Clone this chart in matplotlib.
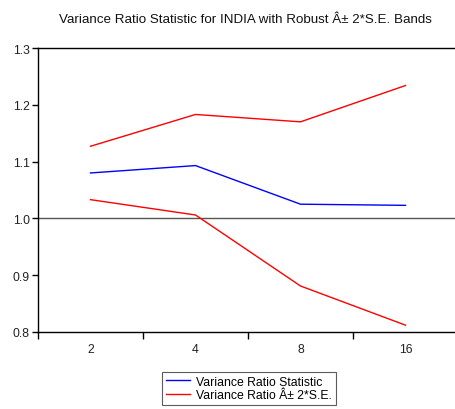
import matplotlib
matplotlib.use("Agg")
import matplotlib.pyplot as plt
from matplotlib.ticker import FixedLocator, NullFormatter, FixedFormatter

plt.rcParams['font.family'] = ['Liberation Sans', 'DejaVu Sans']

categories = ["2", "4", "8", "16"]
vr_stat = [1.080, 1.093, 1.025, 1.023]
upper_band = [1.127, 1.183, 1.170, 1.234]
lower_band = [1.033, 1.006, 0.881, 0.812]
yticks = [0.8, 0.9, 1.0, 1.1, 1.2, 1.3]
title = "Variance Ratio Statistic for INDIA with Robust Â± 2*S.E. Bands"

W, H = 456, 410
fig = plt.figure(figsize=(W / 100, H / 100), dpi=100)
left, right, top, bottom = 38, 458, 49, 333
ax = fig.add_axes([left / W, 1 - bottom / H, (right - left) / W, (bottom - top) / H])

x = list(range(len(categories)))
ax.axhline(1.0, color='#555555', lw=1.0, zorder=1)
l1, = ax.plot(x, vr_stat, color='#0000ff', lw=1.0, label='Variance Ratio Statistic')
l2, = ax.plot(x, upper_band, color='#ff0000', lw=1.0, label='Variance Ratio Â± 2*S.E.')
ax.plot(x, lower_band, color='#ff0000', lw=1.0)

ax.set_xlim(-0.5, len(categories) - 0.5)
ax.set_ylim(0.8, 1.3)
ax.set_yticks(yticks)
ax.set_yticklabels([f"{v:.1f}" for v in yticks])
ax.xaxis.set_major_locator(FixedLocator([i - 0.5 for i in range(len(categories))]))
ax.xaxis.set_major_formatter(NullFormatter())
ax.xaxis.set_minor_locator(FixedLocator(x))
ax.xaxis.set_minor_formatter(FixedFormatter(categories))
ax.tick_params(axis='x', which='major', direction='out', length=5, width=1, color='black')
ax.tick_params(axis='x', which='minor', length=0, pad=8, labelsize=8.8, labelcolor='#222222')
ax.tick_params(axis='y', direction='out', length=4, width=1, labelsize=8.8, labelcolor='#222222', pad=2)
ax.spines['right'].set_visible(False)
for s in ['left', 'bottom', 'top']:
    ax.spines[s].set_linewidth(1.0)
    ax.spines[s].set_color('black')

fig.text(245 / W, 1 - 20 / H, title, ha='center', va='center', fontsize=9.6, color='#111111')

leg = fig.legend(handles=[l1, l2], loc='upper left', bbox_to_anchor=(162 / W, 1 - 373 / H),
                 frameon=True, fancybox=False, edgecolor='#333333', fontsize=8.8,
                 handlelength=2.0, handletextpad=0.5, borderpad=0.3, labelspacing=0.15,
                 borderaxespad=0)
leg.get_frame().set_linewidth(0.8)

fig.savefig("out.png", dpi=100)
